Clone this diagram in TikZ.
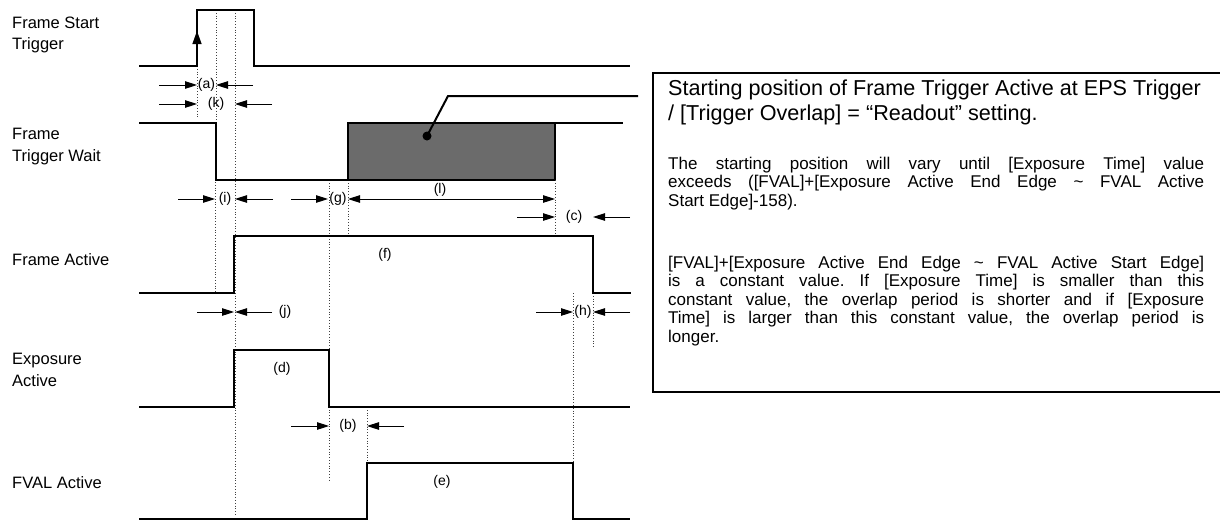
\documentclass[tikz,border=0pt]{standalone}
\usepackage{fontspec}
\setmainfont{Liberation Sans}
\usetikzlibrary{arrows.meta}
\frenchspacing
\begin{document}
\begin{tikzpicture}[x=1pt,y=-1pt,
  wave/.style={line width=2.6pt, line join=miter, line cap=butt},
  dimarrow/.style={line width=0.9pt, -{Triangle[length=12pt,width=7.5pt]}},
  guide/.style={line width=0.7pt, dash pattern=on 0.8pt off 2pt, black!75},
  lbl/.style={font=\fontsize{16.5}{19}\selectfont, anchor=base west, inner sep=0pt},
  tag/.style={font=\fontsize{14}{15}\selectfont, inner sep=0pt},
  head/.style={font=\fontsize{21.6}{25}\selectfont, anchor=base west, inner sep=0pt},
  body/.style={font=\fontsize{17}{19}\selectfont, anchor=base west, inner sep=0pt}]
\useasboundingbox (0,0) rectangle (1220,523);

% ---------- left labels ----------
\node[lbl] (l1a) at (12,28) {Frame Start};
\node[lbl] (l1b) at (12,49) {Trigger};
\node[lbl] (l2a) at (12,139) {Frame};
\node[lbl] (l2b) at (12,161) {Trigger Wait};
\node[lbl] (l3) at (12,265) {Frame Active};
\node[lbl] (l4a) at (12,364) {Exposure};
\node[lbl] (l4b) at (12,386) {Active};
\node[lbl] (l5) at (12,488) {FVAL Active};

% ---------- guide (dotted) lines ----------
\draw[guide] (197,66) -- (197,118);
\draw[guide] (216,10) -- (216,123);
\draw[guide] (215,182) -- (215,293);
\draw[guide] (235,10) -- (235,515);
\draw[guide] (329,180) -- (329,482);
\draw[guide] (348,180) -- (348,236);
\draw[guide] (555,180) -- (555,236);
\draw[guide] (367,407) -- (367,463);
\draw[guide] (573,293) -- (573,462);
\draw[guide] (593,293) -- (593,348);

% ---------- hatched overlap area ----------
\fill[black!58] (348,123) rectangle (555,180);
\draw[line width=1.5pt] (348,180) -- (555,180);
\draw[wave] (555,123) -- (555,180);

% ---------- waveforms ----------
\draw[wave] (139,66) -- (197,66) -- (197,10) -- (254,10) -- (254,66) -- (630,66);
\fill (197,31) -- (192.3,44) -- (201.7,44) -- cycle;
\draw[wave] (139,123) -- (216,123) -- (216,180) -- (348,180) -- (348,123) -- (623,123);
\draw[wave] (139,293) -- (234,293) -- (234,236) -- (593,236) -- (593,293) -- (631,293);
\draw[wave] (139,407) -- (234,407) -- (234,350) -- (329,350) -- (329,407) -- (630,407);
\draw[wave] (139,519) -- (367,519) -- (367,463) -- (573,463) -- (573,519) -- (630,519);

% ---------- dimension arrows ----------
\draw[dimarrow] (159,85) -- (197,85);
\node[tag] (ta) at (206.5,85) {(a)};
\draw[dimarrow] (253,85) -- (216,85);

\draw[dimarrow] (159,104) -- (197,104);
\node[tag] (tk) at (216,104) {(k)};
\draw[dimarrow] (272,104) -- (235,104);

\draw[dimarrow] (178,199) -- (215,199);
\node[tag] (ti) at (225,199) {(i)};
\draw[dimarrow] (273,199) -- (235,199);

\draw[dimarrow] (291,199) -- (328,199);
\node[tag] (tg) at (338,199) {(g)};
\draw[line width=0.9pt, {Triangle[length=12pt,width=7.5pt]}-{Triangle[length=12pt,width=7.5pt]}] (348,199) -- (555,199);
\node[tag] (tl) at (440,190) {(l)};

\draw[dimarrow] (517,217) -- (555,217);
\node[tag] (tc) at (574,217) {(c)};
\draw[dimarrow] (630,217) -- (593,217);

\draw[dimarrow] (197,312) -- (234,312);
\draw[dimarrow] (272,312) -- (235,312);
\node[tag] (tj) at (285,312) {(j)};

\draw[dimarrow] (536,312) -- (573,312);
\node[tag] (th) at (583,312) {(h)};
\draw[dimarrow] (630,312) -- (593,312);

\draw[dimarrow] (291,426) -- (329,426);
\node[tag] (tb) at (348,426) {(b)};
\draw[dimarrow] (404,426) -- (367,426);

% ---------- pulse tags ----------
\node[tag] (tf) at (385,255) {(f)};
\node[tag] (td) at (282,369) {(d)};
\node[tag] (te) at (442,482) {(e)};

% ---------- callout ----------
\coordinate (dot) at (427,136);
\coordinate (bend) at (448,96);
\coordinate (cend) at (638,96);
\fill (dot) circle (4.5pt);
\draw[line width=2pt] (dot) -- (bend) -- (cend);

% ---------- text box ----------
\draw[line width=2pt] (1235,392) -- (653,392) -- (653,73) -- (1235,73);
\node[head] (h1) at (668,95) {Starting position of Frame Trigger Active at EPS Trigger};
\node[head] (h2) at (668,120) {/ [Trigger Overlap] = “Readout” setting.};

\node[body] (b1) at (668,169) {\makebox[536pt][s]{The starting position will vary until [Exposure Time] value}};
\node[body] (b2) at (668,187.5) {\makebox[536pt][s]{exceeds ([FVAL]+[Exposure Active End Edge \textasciitilde{} FVAL Active}};
\node[body] (b3) at (668,206) {Start Edge]-158).};

\node[body] (b4) at (668,268) {\makebox[536pt][s]{[FVAL]+[Exposure Active End Edge \textasciitilde{} FVAL Active Start Edge]}};
\node[body] (b5) at (668,286.5) {\makebox[536pt][s]{is a constant value. If [Exposure Time] is smaller than this}};
\node[body] (b6) at (668,305) {\makebox[536pt][s]{constant value, the overlap period is shorter and if [Exposure}};
\node[body] (b7) at (668,323.5) {\makebox[536pt][s]{Time] is larger than this constant value, the overlap period is}};
\node[body] (b8) at (668,342) {longer.};
\end{tikzpicture}
\end{document}
